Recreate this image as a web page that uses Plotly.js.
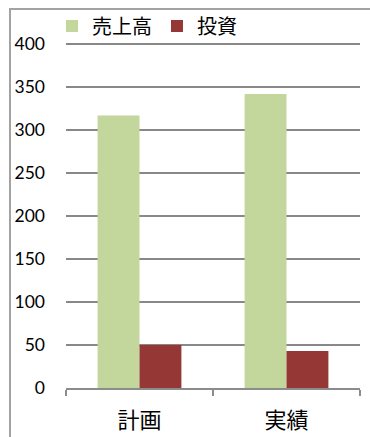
<!DOCTYPE html>
<html>
<head>
<meta charset="utf-8">
<script src="https://cdn.plot.ly/plotly-3.0.1.min.js"></script>
<style>
  html, body { margin: 0; padding: 0; background: #fff; overflow: hidden; }
  #wrap { position: relative; width: 370px; height: 437px; }
  #chart { position: absolute; left: 0; top: 0; width: 370px; height: 437px; }
  #frame {
    position: absolute; left: 9px; top: 8px; width: 420px; height: 480px;
    border-left: 2px solid #a3a3a3; border-top: 2px solid #a3a3a3;
    pointer-events: none;
  }
</style>
</head>
<body>
<div id="wrap">
  <div id="chart"></div>
  <div id="frame"></div>
</div>
<script>
// Categories and series
const categories = ['計画', '実績'];
const salesName = '売上高';
const salesValues = [317, 342];
const investName = '投資';
const investValues = [50, 43];
const yTicks = [0, 50, 100, 150, 200, 250, 300, 350, 400];

const cjk = '"Noto Sans CJK JP", "Noto Sans", sans-serif';
const num = 'Lato, "Open Sans", sans-serif';

const traces = [
  {
    type: 'bar', name: salesName, x: categories, y: salesValues,
    marker: { color: '#c3d69b' }, hoverinfo: 'none'
  },
  {
    type: 'bar', name: investName, x: categories, y: investValues,
    marker: { color: '#953735' }, hoverinfo: 'none'
  }
];

// plot area spans y = 40..388 px; the top 400 gridline sits a little below its edge
const layout = {
  width: 370, height: 437,
  margin: { l: 66, r: 10, t: 40, b: 49, autoexpand: false },
  paper_bgcolor: '#fff', plot_bgcolor: '#fff',
  barmode: 'group', bargap: 0.43, bargroupgap: 0,
  showlegend: true,
  legend: {
    orientation: 'h',
    x: 0.1405, xanchor: 'left', xref: 'container',
    y: 0.9405, yanchor: 'middle', yref: 'container',
    bgcolor: 'rgba(0,0,0,0)',
    font: { family: cjk, size: 20, color: '#000' },
    itemclick: false, itemdoubleclick: false,
    tracegroupgap: 0, itemwidth: 30
  },
  xaxis: {
    type: 'category',
    showline: true, linecolor: '#8c8c8c', linewidth: 1.5,
    ticks: 'outside', tickson: 'boundaries', ticklen: 6,
    tickcolor: '#8c8c8c', tickwidth: 1.5,
    ticklabelstandoff: 12,
    tickfont: { family: cjk, size: 22, color: '#000' },
    showgrid: false, zeroline: false, fixedrange: true
  },
  yaxis: {
    range: [0, 404.65], tickvals: yTicks,
    showgrid: true, gridcolor: '#888888', gridwidth: 1.5,
    showline: false, zeroline: false, ticks: '',
    ticklabelstandoff: 20,
    tickfont: { family: num, size: 17.5, color: '#000' },
    fixedrange: true
  }
};

Plotly.newPlot('chart', traces, layout, { displayModeBar: false, staticPlot: true });
</script>
</body>
</html>
